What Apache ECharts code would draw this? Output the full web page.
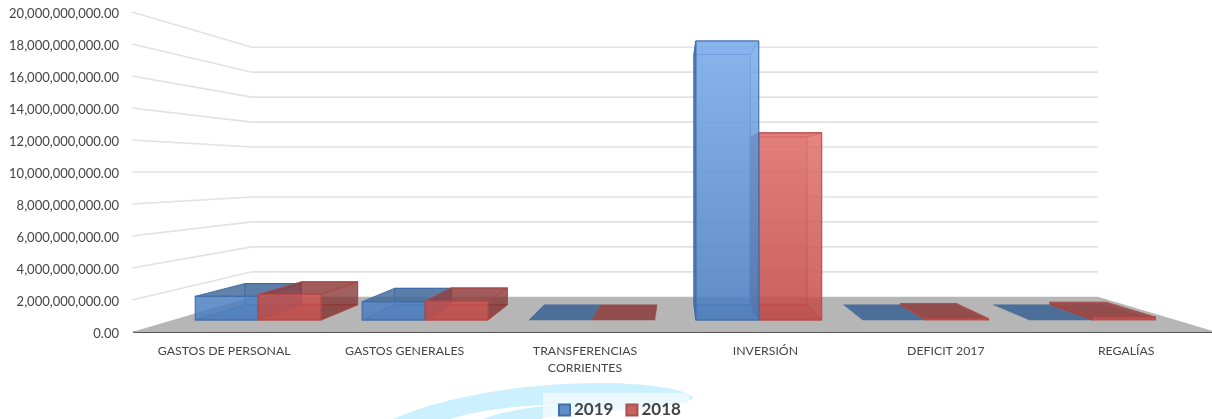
<!DOCTYPE html>
<html><head><meta charset="utf-8">
<style>html,body{margin:0;padding:0;background:#fff}#c{width:1212px;height:419px}</style>
<script src="https://cdn.jsdelivr.net/npm/echarts@6/dist/echarts.min.js"></script>
</head><body><div id="c"></div>
<script>
const categories = ['GASTOS DE PERSONAL','GASTOS GENERALES','TRANSFERENCIAS\nCORRIENTES','INVERSIÓN','DEFICIT 2017','REGALÍAS'];
const values2019 = [1600000000,1240000000,0,18850000000,0,0];
const values2018 = [1730000000,1270000000,0,12640000000,100000000,200000000];
const gridTicks = [2e9,4e9,6e9,8e9,1e10,1.2e10,1.4e10,1.6e10,1.8e10,2e10];

const VX=677, VY=172;
const S_BACK=0.78, S_BAR_FRONT=0.925, S_BAR_BACK=0.83;
const BAR_FRAC=0.377;
const P=(wx,wy,s)=>[VX+(wx-VX)*s, VY+(wy-VY)*s];
const grad=(y0,a,b)=>new echarts.graphic.LinearGradient(0,y0,0,320,[{offset:0,color:a},{offset:1,color:b}],true);
const poly=(pts,fill,stroke,lw,z2)=>({type:'polygon',shape:{points:pts},z2:z2,style:{fill:fill,stroke:stroke,lineWidth:lw==null?1:lw,lineJoin:'round'}});

const looks={
  blue:{front:()=>grad(41,'rgba(121,172,235,0.85)','rgba(74,125,190,0.85)'),line:'rgba(62,108,168,0.9)',
        back:'rgba(92,140,205,0.22)',floor:'rgba(60,100,155,0.4)',side:'rgba(60,105,165,0.7)',top:'rgba(62,102,152,0.82)',flat:'#4b6f99'},
  red:{front:()=>grad(133,'rgba(224,112,107,0.85)','rgba(193,74,72,0.85)'),line:'rgba(178,72,70,0.9)',
        back:'rgba(190,80,78,0.22)',floor:'rgba(150,60,58,0.35)',side:'rgba(128,50,50,0.72)',top:'rgba(140,60,60,0.8)',flat:'#914c4c'}
};
function barRender(look,offset){
  const L=looks[look];
  return function(params,api){
    const idx=api.value(0), val=api.value(1);
    const c=api.coord([idx,val]), c0=api.coord([idx,0]);
    const band=api.size([1,0])[0], w=band*BAR_FRAC;
    const x0=c[0]+offset*w, x1=x0+w, yT=c[1], yB=c0[1];
    const fbl=P(x0,yB,S_BAR_FRONT),fbr=P(x1,yB,S_BAR_FRONT),ftl=P(x0,yT,S_BAR_FRONT),ftr=P(x1,yT,S_BAR_FRONT);
    const bbl=P(x0,yB,S_BAR_BACK),bbr=P(x1,yB,S_BAR_BACK),btl=P(x0,yT,S_BAR_BACK),btr=P(x1,yT,S_BAR_BACK);
    const kids=[];
    if(val===0){
      kids.push(poly([bbl,bbr,fbr,fbl],L.flat,L.flat,0.5,0));
      return {type:'group',children:kids};
    }
    const rightOfVP=c[0]>VX;
    const base=(look==='red')===rightOfVP?1:11;
    const thin=(yB-yT)<8;
    const seenFromBelow=ftl[1]<VY;
    kids.push(poly([bbl,bbr,btr,btl],L.back,thin?'transparent':L.line,thin?0:1,base));
    kids.push(poly([bbl,bbr,fbr,fbl],L.floor,thin?'transparent':L.line,thin?0:1,base+1));
    if(x1>VX){kids.push(poly([fbl,bbl,btl,ftl],L.side,L.line,1,base+2));}
    if(x0<VX){kids.push(poly([fbr,bbr,btr,ftr],L.side,L.line,1,base+2));}
    kids.push(poly([ftl,ftr,btr,btl],seenFromBelow?L.back:L.top,L.line,1,base+3));
    kids.push(poly([ftl,ftr,fbr,fbl],L.front(),L.line,1.2,base+4));
    return {type:'group',children:kids};
  };
}
function wallRender(params,api){
  const y=api.coord([0,api.value(1)])[1];
  const r=params.coordSys.x+params.coordSys.width, l=params.coordSys.x-2;
  return {type:'polyline',shape:{points:[[l,y],P(l,y,S_BACK),P(r,y,S_BACK)]},style:{fill:null,stroke:'#e2e2e2',lineWidth:1.6}};
}
function floorRender(params,api){
  const y=api.coord([0,0])[1];
  const r=params.coordSys.x+params.coordSys.width, l=params.coordSys.x-2;
  return {type:'polygon',shape:{points:[[l,y],P(l,y,S_BACK),P(r,y,S_BACK),[r,y]]},style:{fill:'#b6b6b6'}};
}
function swooshRender(){
  return {type:'group',children:[
    {type:'path',shape:{pathData:'M393 419 C440 398 520 383 600 383 C650 383 690 390 693 398 C690 405 640 410 590 412 C570 414 550 416 540 419 Z'},style:{fill:'#cdf0fe'}},
    {type:'path',shape:{pathData:'M450 419 C480 410 520 405 552 405 C525 408 500 412 483 419 Z'},style:{fill:'#ffffff'}},
    {type:'rect',shape:{x:543,y:393,width:147,height:26},style:{fill:'rgba(255,255,255,0.6)'}}
  ]};
}
const chart=echarts.init(document.getElementById('c'),null,{renderer:'canvas'});
chart.setOption({
  animation:false,backgroundColor:'#fff',
  textStyle:{fontFamily:'Lato'},
  grid:{left:134,top:12,height:320,width:1082.4,outerBoundsMode:'none'},
  xAxis:{type:'category',data:categories,axisTick:{show:false},
    axisLine:{lineStyle:{color:'#555',width:2}},
    axisLabel:{interval:0,color:'#444',fontSize:12.3,margin:11,lineHeight:17,fontFamily:'Lato'}},
  yAxis:{type:'value',min:0,max:2e10,interval:2e9,splitLine:{show:false},axisLine:{show:false},axisTick:{show:false},
    axisLabel:{color:'#444',fontSize:13,margin:15,fontFamily:'Lato',verticalAlign:'top',lineHeight:13,padding:[-5,0,0,0],
      formatter:v=>v.toLocaleString('en-US',{minimumFractionDigits:2,maximumFractionDigits:2})}},
  legend:{data:['2019','2018'],left:553,top:396.5,itemWidth:11,itemHeight:11,itemGap:12,icon:'rect',
    textStyle:{fontSize:17,fontWeight:'bold',color:'#444',fontFamily:'Lato',padding:[0,0,0,-1]}},
  series:[
    {type:'custom',name:'decor',z:0,silent:true,renderItem:swooshRender,coordinateSystem:'none',data:[0]},
    {type:'custom',name:'walls',z:1,silent:true,renderItem:wallRender,data:gridTicks.map(v=>[0,v]),encode:{x:0,y:1}},
    {type:'custom',name:'floor',z:2,silent:true,renderItem:floorRender,data:[[0,0]],encode:{x:0,y:1}},
    {type:'custom',name:'2019',z:3,renderItem:barRender('blue',-1),itemStyle:{color:'#5f8dc8',borderColor:'#3f6ea8',borderWidth:1},
      data:values2019.map((v,i)=>[i,v]),encode:{x:0,y:1}},
    {type:'custom',name:'2018',z:3,renderItem:barRender('red',0),itemStyle:{color:'#c9625f',borderColor:'#a84f4f',borderWidth:1},
      data:values2018.map((v,i)=>[i,v]),encode:{x:0,y:1}}
  ]
});
</script></body></html>
